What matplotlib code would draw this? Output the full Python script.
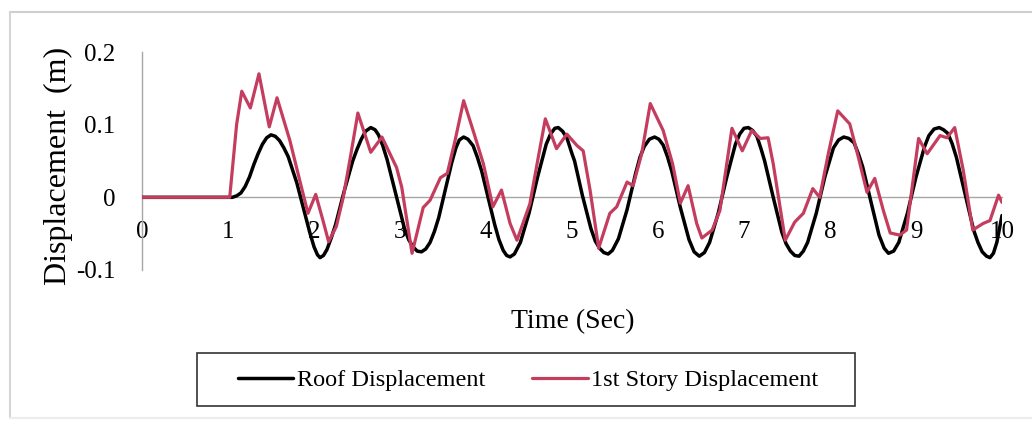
import matplotlib
matplotlib.use('Agg')
import matplotlib.pyplot as plt
from matplotlib.lines import Line2D
from matplotlib.patches import Rectangle

# roof displacement (m)
roof_t = [0.0, 1.05, 1.1, 1.15, 1.2, 1.25, 1.3, 1.35, 1.4, 1.45, 1.5, 1.55, 1.6, 1.65,
          1.7, 1.8, 1.9, 1.95, 2.0, 2.04, 2.07, 2.11, 2.15, 2.2, 2.25, 2.35, 2.45, 2.5,
          2.55, 2.6, 2.66, 2.71, 2.75, 2.8, 2.85, 2.95, 3.05, 3.1, 3.15, 3.2, 3.25, 3.3,
          3.35, 3.4, 3.45, 3.55, 3.6, 3.65, 3.69, 3.74, 3.79, 3.85, 3.9, 3.95, 4.05,
          4.1, 4.15, 4.2, 4.24, 4.28, 4.33, 4.4, 4.5, 4.6, 4.7, 4.75, 4.8, 4.84, 4.89,
          4.94, 5.0, 5.03, 5.12, 5.22, 5.27, 5.32, 5.37, 5.42, 5.47, 5.54, 5.64, 5.74,
          5.79, 5.84, 5.9, 5.96, 6.01, 6.06, 6.11, 6.16, 6.26, 6.36, 6.42, 6.48, 6.54,
          6.6, 6.7, 6.8, 6.9, 6.95, 7.0, 7.05, 7.1, 7.15, 7.2, 7.24, 7.34, 7.44, 7.49,
          7.54, 7.59, 7.64, 7.69, 7.74, 7.84, 7.94, 8.04, 8.1, 8.16, 8.22, 8.28, 8.33,
          8.38, 8.48, 8.57, 8.63, 8.68, 8.74, 8.8, 8.9, 9.0, 9.1, 9.15, 9.21, 9.27,
          9.32, 9.37, 9.42, 9.47, 9.57, 9.67, 9.72, 9.77, 9.82, 9.86, 9.9, 9.94, 10.0]
roof_d = [0.0, 0.0, 0.002, 0.006, 0.015, 0.028, 0.045, 0.06, 0.073, 0.082, 0.086, 0.084,
          0.078, 0.068, 0.056, 0.02, -0.025, -0.048, -0.068, -0.079, -0.083, -0.08,
          -0.072, -0.056, -0.038, 0.008, 0.05, 0.066, 0.08, 0.091, 0.096, 0.093, 0.086,
          0.071, 0.052, 0.005, -0.042, -0.058, -0.068, -0.074, -0.075, -0.071, -0.062,
          -0.047, -0.028, 0.022, 0.047, 0.068, 0.079, 0.083, 0.08, 0.071, 0.055, 0.036,
          -0.013, -0.037, -0.058, -0.073, -0.08, -0.082, -0.078, -0.062, -0.022, 0.028,
          0.073, 0.087, 0.095, 0.096, 0.091, 0.082, 0.06, 0.05, 0.003, -0.043, -0.06,
          -0.07, -0.076, -0.078, -0.073, -0.057, -0.017, 0.033, 0.055, 0.07, 0.08, 0.083,
          0.08, 0.072, 0.056, 0.036, -0.014, -0.058, -0.075, -0.081, -0.076, -0.062,
          -0.022, 0.028, 0.073, 0.087, 0.095, 0.096, 0.092, 0.084, 0.066, 0.05, 0.0,
          -0.048, -0.064, -0.074, -0.08, -0.081, -0.074, -0.062, -0.022, 0.028, 0.068,
          0.079, 0.083, 0.081, 0.075, 0.06, 0.042, -0.008, -0.052, -0.07, -0.077, -0.074,
          -0.062, -0.022, 0.028, 0.07, 0.085, 0.094, 0.096, 0.093, 0.088, 0.074, 0.055,
          0.005, -0.045, -0.062, -0.075, -0.081, -0.083, -0.077, -0.062, -0.025]

# 1st story displacement (m)
story_t = [0.0, 1.02, 1.1, 1.16, 1.26, 1.36, 1.48, 1.57, 1.72, 1.82, 1.93, 2.02, 2.1,
           2.17, 2.26, 2.34, 2.43, 2.51, 2.66, 2.79, 2.96, 3.02, 3.14, 3.27, 3.35, 3.47,
           3.55, 3.64, 3.74, 3.85, 3.97, 4.08, 4.18, 4.28, 4.36, 4.51, 4.6, 4.69, 4.82,
           4.94, 5.06, 5.13, 5.21, 5.31, 5.44, 5.52, 5.64, 5.71, 5.81, 5.91, 6.06, 6.17,
           6.26, 6.35, 6.45, 6.51, 6.63, 6.72, 6.86, 6.98, 7.09, 7.19, 7.28, 7.34, 7.48,
           7.59, 7.69, 7.8, 7.88, 7.98, 8.09, 8.23, 8.33, 8.43, 8.52, 8.62, 8.7, 8.81,
           8.89, 9.03, 9.13, 9.28, 9.36, 9.45, 9.55, 9.66, 9.78, 9.86, 9.96, 10.0]
story_d = [0.0, 0.0, 0.1, 0.146, 0.123, 0.17, 0.097, 0.137, 0.078, 0.03, -0.022, 0.004,
           -0.03, -0.061, -0.04, 0.0, 0.06, 0.116, 0.062, 0.083, 0.041, 0.014, -0.077,
           -0.014, -0.004, 0.027, 0.033, 0.078, 0.133, 0.092, 0.046, -0.013, 0.01, -0.036,
           -0.059, -0.009, 0.05, 0.108, 0.067, 0.087, 0.071, 0.064, 0.01, -0.07, -0.022,
           -0.013, 0.021, 0.016, 0.06, 0.129, 0.092, 0.046, -0.008, 0.016, -0.036, -0.056,
           -0.045, -0.018, 0.095, 0.064, 0.092, 0.081, 0.082, 0.046, -0.059, -0.034,
           -0.022, 0.012, 0.0, 0.06, 0.119, 0.101, 0.055, 0.007, 0.026, -0.018, -0.049,
           -0.052, -0.045, 0.081, 0.06, 0.085, 0.082, 0.096, 0.037, -0.045, -0.036,
           -0.032, 0.003, -0.007]

x_ticks = list(range(0, 11))
y_ticks = [-0.1, 0, 0.1, 0.2]
y_tick_labels = ['-0.1', '0', '0.1', '0.2']

plt.rcParams['font.family'] = ['Liberation Serif', 'DejaVu Serif']

black = '#000000'
red = '#c43d5e'
grey = '#a6a6a6'

fig = plt.figure(figsize=(10.32, 4.21), dpi=100, facecolor='white')
ax = fig.add_axes([142 / 1032, 1 - 270 / 421, 860 / 1032, 218 / 421])

ax.plot(roof_t, roof_d, color=black, linewidth=2.5, zorder=3,
        solid_joinstyle='round', solid_capstyle='round', label='Roof Displacement')
ax.plot(story_t, story_d, color=red, linewidth=2.3, zorder=4,
        solid_joinstyle='round', solid_capstyle='round', label='1st Story Displacement')

ax.set_xlim(0, 10)
ax.set_ylim(-0.1, 0.2)
ax.set_xticks(x_ticks)
ax.set_yticks(y_ticks)
ax.set_yticklabels(y_tick_labels)

ax.spines['top'].set_visible(False)
ax.spines['right'].set_visible(False)
ax.spines['bottom'].set_position(('data', 0))
ax.spines['bottom'].set_color(grey)
ax.spines['left'].set_color(grey)
ax.spines['bottom'].set_linewidth(1)
ax.spines['left'].set_linewidth(1)
ax.spines['bottom'].set_zorder(1)

ax.tick_params(axis='x', length=0, pad=17, labelsize=18)
ax.tick_params(axis='y', length=0, pad=19, labelsize=18)

fig.text(573 / 1032, 1 - 322 / 421, 'Time (Sec)', fontsize=20,
         ha='center', va='center')
fig.text(58 / 1032, 1 - 166 / 421, 'Displacement  (m)', fontsize=23,
         ha='center', va='center', rotation=90)

leg = fig.legend(loc='center', bbox_to_anchor=(528 / 1032, 1 - 380 / 421), ncol=2,
                 fontsize=17.5, frameon=False, handlelength=2.3,
                 handletextpad=0.15, columnspacing=1.9)

# legend box, wider than the entries as in the original
fig.add_artist(Rectangle((197 / 1032, 1 - 406 / 421), 658 / 1032, 53 / 421,
                         transform=fig.transFigure, fill=False,
                         edgecolor='#333333', linewidth=1.2))

# light frame of the chart area
fig.add_artist(Line2D([10 / 1032, 1.0], [1 - 12 / 421, 1 - 12 / 421],
                      transform=fig.transFigure, color='#cfcfcf', linewidth=1.5))
fig.add_artist(Line2D([10 / 1032, 10 / 1032], [1 - 12 / 421, 1 - 418 / 421],
                      transform=fig.transFigure, color='#d5d5d5', linewidth=1.5))
fig.add_artist(Line2D([10 / 1032, 1.0], [1 - 418 / 421, 1 - 418 / 421],
                      transform=fig.transFigure, color='#ececec', linewidth=1.5))

fig.savefig('out.png', dpi=100, facecolor='white')
